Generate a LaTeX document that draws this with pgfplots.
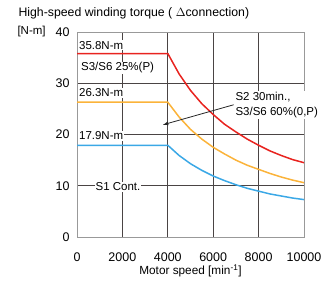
\documentclass[border=0pt]{standalone}
\usepackage{fontspec}
\setmainfont{Liberation Sans}
\usepackage{pgfplots}
\pgfplotsset{compat=1.18}
\definecolor{cred}{HTML}{E8231F}
\definecolor{corange}{HTML}{FBB33A}
\definecolor{cblue}{HTML}{3BA8E6}
\definecolor{cgrid}{HTML}{4A4444}
\tikzset{lab/.style={font=\fontsize{11.5}{14}\selectfont, fill=white, inner sep=1pt}}
\begin{document}
\begin{tikzpicture}
\begin{axis}[
  scale only axis, width=227pt, height=205pt,
  xmin=0, xmax=10000, ymin=0, ymax=40,
  xtick={0,2000,4000,6000,8000,10000},
  ytick={0,10,20,30,40},
  scaled x ticks=false,
  /pgf/number format/assume math mode=true,
  xticklabel style={/pgf/number format/1000 sep={}},
  tick label style={font=\fontsize{12.5}{14}\selectfont},
  xticklabel style={yshift=-12pt},
  yticklabel style={xshift=-4pt},
  major tick length=0pt,
  grid=major,
  major grid style={cgrid, line width=0.7pt},
  axis line style={gray!80, line width=0.8pt},
  xlabel={Motor speed [min\textsuperscript{-1}]},
  xlabel style={font=\fontsize{11.8}{14}\selectfont, at={(axis description cs:0.5,0)}, anchor=center, yshift=-34pt},
  clip=false,
  every axis plot/.append style={line width=1.5pt},
]
\addplot[cred] coordinates {(0,35.8)(4000,35.8)(4500,31.8)(5000,28.6)(5500,26.0)(6000,23.9)(6500,22.0)(7000,20.5)(7500,19.1)(8000,17.9)(8500,16.8)(9000,15.9)(9500,15.1)(10000,14.5)};
\addplot[corange] coordinates {(0,26.3)(4000,26.3)(4500,23.4)(5000,21.0)(5500,19.1)(6000,17.5)(6500,16.2)(7000,15.0)(7500,14.0)(8000,13.2)(8500,12.4)(9000,11.7)(9500,11.1)(10000,10.6)};
\addplot[cblue] coordinates {(0,17.9)(4000,17.9)(4500,15.9)(5000,14.3)(5500,13.0)(6000,11.9)(6500,11.0)(7000,10.2)(7500,9.5)(8000,8.95)(8500,8.4)(9000,8.0)(9500,7.6)(10000,7.3)};
\node[lab, anchor=west] at (axis cs:40,37.4) {35.8N-m};
\node[lab, anchor=west] at (axis cs:130,33.0) {S3/S6 25\%(P)};
\node[lab, anchor=west] at (axis cs:40,28.1) {26.3N-m};
\node[lab, anchor=west] at (axis cs:40,19.7) {17.9N-m};
\node[lab] at (axis cs:1806,9.8) {S1 Cont.};
\node[font=\fontsize{11.5}{15.5}\selectfont, anchor=west, align=left, fill=white, inner sep=1pt] at (axis cs:6930,25.8) {S2 30min.,\\S3/S6 60\%(0,P)};
\draw[-latex, line width=0.8pt, black!85] (axis cs:6900,25.8) -- (axis cs:3790,21.9);
\coordinate (o) at (rel axis cs:0,0);
\end{axis}
\node[anchor=west, font=\fontsize{12.3}{14}\selectfont] at ([xshift=-62pt,yshift=224pt]o) {High-speed winding torque ( $\Delta$connection)};
\node[anchor=west, font=\fontsize{11.5}{14}\selectfont] at ([xshift=-63pt,yshift=205pt]o) {[N-m]};
\pgfresetboundingbox
\path[use as bounding box] ([xshift=-77pt,yshift=-44pt]o) rectangle ([xshift=246pt,yshift=237pt]o);
\end{tikzpicture}
\end{document}
